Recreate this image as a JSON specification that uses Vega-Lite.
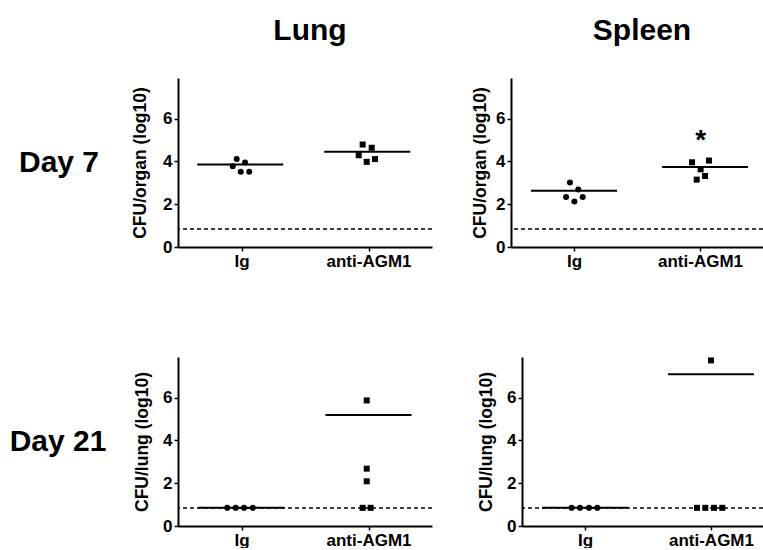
{
  "$schema": "https://vega.github.io/schema/vega-lite/v6.json",
  "padding": {"left": 0, "top": 16, "right": 0, "bottom": 0},
  "background": "white",
  "datasets": {
    "points": [
      {"organ": "Lung", "day": 7, "group": "Ig", "x": 0.962, "value": 4.11},
      {"organ": "Lung", "day": 7, "group": "Ig", "x": 0.931, "value": 3.78},
      {"organ": "Lung", "day": 7, "group": "Ig", "x": 1.028, "value": 3.95},
      {"organ": "Lung", "day": 7, "group": "Ig", "x": 0.994, "value": 3.52},
      {"organ": "Lung", "day": 7, "group": "Ig", "x": 1.061, "value": 3.52},
      {"organ": "Lung", "day": 7, "group": "anti-AGM1", "x": 1.954, "value": 4.79},
      {"organ": "Lung", "day": 7, "group": "anti-AGM1", "x": 2.025, "value": 4.64},
      {"organ": "Lung", "day": 7, "group": "anti-AGM1", "x": 1.923, "value": 4.29},
      {"organ": "Lung", "day": 7, "group": "anti-AGM1", "x": 1.986, "value": 3.98},
      {"organ": "Lung", "day": 7, "group": "anti-AGM1", "x": 2.051, "value": 4.11},
      {"organ": "Spleen", "day": 7, "group": "Ig", "x": 0.968, "value": 3.02},
      {"organ": "Spleen", "day": 7, "group": "Ig", "x": 1.034, "value": 2.69},
      {"organ": "Spleen", "day": 7, "group": "Ig", "x": 0.937, "value": 2.34},
      {"organ": "Spleen", "day": 7, "group": "Ig", "x": 1.069, "value": 2.34},
      {"organ": "Spleen", "day": 7, "group": "Ig", "x": 1.003, "value": 2.13},
      {"organ": "Spleen", "day": 7, "group": "anti-AGM1", "x": 1.937, "value": 3.96},
      {"organ": "Spleen", "day": 7, "group": "anti-AGM1", "x": 2.071, "value": 4.04},
      {"organ": "Spleen", "day": 7, "group": "anti-AGM1", "x": 2.005, "value": 3.63},
      {"organ": "Spleen", "day": 7, "group": "anti-AGM1", "x": 1.974, "value": 3.15},
      {"organ": "Spleen", "day": 7, "group": "anti-AGM1", "x": 2.04, "value": 3.32},
      {"organ": "Lung", "day": 21, "group": "Ig", "x": 0.888, "value": 0.85},
      {"organ": "Lung", "day": 21, "group": "Ig", "x": 0.954, "value": 0.85},
      {"organ": "Lung", "day": 21, "group": "Ig", "x": 1.02, "value": 0.85},
      {"organ": "Lung", "day": 21, "group": "Ig", "x": 1.089, "value": 0.85},
      {"organ": "Lung", "day": 21, "group": "anti-AGM1", "x": 1.986, "value": 5.87},
      {"organ": "Lung", "day": 21, "group": "anti-AGM1", "x": 1.986, "value": 2.68},
      {"organ": "Lung", "day": 21, "group": "anti-AGM1", "x": 1.986, "value": 2.09},
      {"organ": "Lung", "day": 21, "group": "anti-AGM1", "x": 1.954, "value": 0.85},
      {"organ": "Lung", "day": 21, "group": "anti-AGM1", "x": 2.017, "value": 0.85},
      {"organ": "Spleen", "day": 21, "group": "Ig", "x": 0.894, "value": 0.85},
      {"organ": "Spleen", "day": 21, "group": "Ig", "x": 0.96, "value": 0.85},
      {"organ": "Spleen", "day": 21, "group": "Ig", "x": 1.032, "value": 0.85},
      {"organ": "Spleen", "day": 21, "group": "Ig", "x": 1.098, "value": 0.85},
      {"organ": "Spleen", "day": 21, "group": "anti-AGM1", "x": 2.0, "value": 7.74},
      {"organ": "Spleen", "day": 21, "group": "anti-AGM1", "x": 1.889, "value": 0.85},
      {"organ": "Spleen", "day": 21, "group": "anti-AGM1", "x": 1.955, "value": 0.85},
      {"organ": "Spleen", "day": 21, "group": "anti-AGM1", "x": 2.024, "value": 0.85},
      {"organ": "Spleen", "day": 21, "group": "anti-AGM1", "x": 2.09, "value": 0.85}
    ],
    "means": [
      {"organ": "Lung", "day": 7, "group": "Ig", "x": 0.99, "value": 3.86},
      {"organ": "Lung", "day": 7, "group": "anti-AGM1", "x": 1.99, "value": 4.45},
      {"organ": "Spleen", "day": 7, "group": "Ig", "x": 1.0, "value": 2.63},
      {"organ": "Spleen", "day": 7, "group": "anti-AGM1", "x": 2.04, "value": 3.74},
      {"organ": "Lung", "day": 21, "group": "Ig", "x": 1.0, "value": 0.85},
      {"organ": "Lung", "day": 21, "group": "anti-AGM1", "x": 2.0, "value": 5.19},
      {"organ": "Spleen", "day": 21, "group": "Ig", "x": 1.0, "value": 0.85},
      {"organ": "Spleen", "day": 21, "group": "anti-AGM1", "x": 2.0, "value": 7.09}
    ],
    "stars": [
      {"organ": "Spleen", "day": 7, "x": 2.005, "value": 5.2, "label": "*"}
    ],
    "limit": [
      {"value": 0.84}
    ]
  },
  "vconcat": [
    {
      "spacing": 79,
      "bounds": "flush",
      "hconcat": [
        {
          "width": 99, "height": 169,
          "data": {"values": [{"label": "Day 7"}]},
          "mark": {"type": "text", "font": "Liberation Sans", "fontWeight": "bold", "fontSize": 30, "color": "black", "align": "center", "baseline": "middle", "dx": 9.5},
          "encoding": {"text": {"field": "label", "type": "nominal"}}
        },
        {
          "width": 254, "height": 169,
          "title": {"text": "Lung", "font": "Liberation Sans", "fontWeight": "bold", "fontSize": 30, "color": "black", "anchor": "middle", "frame": "group", "offset": 32, "dx": 5},
          "encoding": {
            "x": {"field": "x", "type": "quantitative", "scale": {"domain": [0.5, 2.5], "nice": false, "zero": false}, "axis": {"values": [1, 2], "labelExpr": "datum.value == 1 ? 'Ig' : 'anti-AGM1'", "title": null}},
            "y": {"field": "value", "type": "quantitative", "scale": {"domain": [0, 7.9], "nice": false}, "axis": {"values": [0, 2, 4, 6], "title": "CFU/organ (log10)", "titlePadding": 13}}
          },
          "layer": [
            {"data": {"name": "limit"}, "mark": {"type": "rule", "strokeDash": [4, 3], "strokeWidth": 1.5, "color": "black"}, "encoding": {"x": null, "y": {"field": "value", "type": "quantitative"}}},
            {"data": {"name": "means"}, "transform": [{"filter": "datum.organ == 'Lung' && datum.day == 7"}], "mark": {"type": "tick", "orient": "horizontal", "size": 86, "thickness": 2, "color": "black", "opacity": 1}},
            {"data": {"name": "points"}, "transform": [{"filter": "datum.organ == 'Lung' && datum.day == 7"}], "mark": {"type": "point", "filled": true, "opacity": 1, "size": 36, "color": "black"}, "encoding": {"shape": {"field": "group", "type": "nominal", "scale": {"domain": ["Ig", "anti-AGM1"], "range": ["circle", "square"]}, "legend": null}}}
          ]
        },
        {
          "width": 252, "height": 169,
          "title": {"text": "Spleen", "font": "Liberation Sans", "fontWeight": "bold", "fontSize": 30, "color": "black", "anchor": "middle", "frame": "group", "offset": 32, "dx": 5},
          "encoding": {
            "x": {"field": "x", "type": "quantitative", "scale": {"domain": [0.5, 2.5], "nice": false, "zero": false}, "axis": {"values": [1, 2], "labelExpr": "datum.value == 1 ? 'Ig' : 'anti-AGM1'", "title": null}},
            "y": {"field": "value", "type": "quantitative", "scale": {"domain": [0, 7.9], "nice": false}, "axis": {"values": [0, 2, 4, 6], "title": "CFU/organ (log10)", "titlePadding": 6}}
          },
          "layer": [
            {"data": {"name": "limit"}, "mark": {"type": "rule", "strokeDash": [4, 3], "strokeWidth": 1.5, "color": "black"}, "encoding": {"x": null, "y": {"field": "value", "type": "quantitative"}}},
            {"data": {"name": "means"}, "transform": [{"filter": "datum.organ == 'Spleen' && datum.day == 7"}], "mark": {"type": "tick", "orient": "horizontal", "size": 86, "thickness": 2, "color": "black", "opacity": 1}},
            {"data": {"name": "points"}, "transform": [{"filter": "datum.organ == 'Spleen' && datum.day == 7"}], "mark": {"type": "point", "filled": true, "opacity": 1, "size": 36, "color": "black"}, "encoding": {"shape": {"field": "group", "type": "nominal", "scale": {"domain": ["Ig", "anti-AGM1"], "range": ["circle", "square"]}, "legend": null}}},
            {"data": {"name": "stars"}, "mark": {"type": "text", "font": "Liberation Sans", "fontWeight": "bold", "fontSize": 28, "color": "black", "baseline": "middle", "dy": 5}, "encoding": {"text": {"field": "label", "type": "nominal"}}}
          ]
        }
      ]
    },
    {
      "spacing": 90,
      "bounds": "flush",
      "hconcat": [
        {
          "width": 88, "height": 169,
          "data": {"values": [{"label": "Day 21"}]},
          "mark": {"type": "text", "font": "Liberation Sans", "fontWeight": "bold", "fontSize": 30, "color": "black", "align": "center", "baseline": "middle", "dx": 14},
          "encoding": {"text": {"field": "label", "type": "nominal"}}
        },
        {
          "width": 254, "height": 169,
          "encoding": {
            "x": {"field": "x", "type": "quantitative", "scale": {"domain": [0.5, 2.5], "nice": false, "zero": false}, "axis": {"values": [1, 2], "labelExpr": "datum.value == 1 ? 'Ig' : 'anti-AGM1'", "title": null}},
            "y": {"field": "value", "type": "quantitative", "scale": {"domain": [0, 7.9], "nice": false}, "axis": {"values": [0, 2, 4, 6], "title": "CFU/lung (log10)", "titlePadding": 11}}
          },
          "layer": [
            {"data": {"name": "limit"}, "mark": {"type": "rule", "strokeDash": [4, 3], "strokeWidth": 1.5, "color": "black"}, "encoding": {"x": null, "y": {"field": "value", "type": "quantitative"}}},
            {"data": {"name": "means"}, "transform": [{"filter": "datum.organ == 'Lung' && datum.day == 21"}], "mark": {"type": "tick", "orient": "horizontal", "size": 86, "thickness": 2, "color": "black", "opacity": 1}},
            {"data": {"name": "points"}, "transform": [{"filter": "datum.organ == 'Lung' && datum.day == 21"}], "mark": {"type": "point", "filled": true, "opacity": 1, "size": 36, "color": "black"}, "encoding": {"shape": {"field": "group", "type": "nominal", "scale": {"domain": ["Ig", "anti-AGM1"], "range": ["circle", "square"]}, "legend": null}}}
          ]
        },
        {
          "width": 241, "height": 169,
          "encoding": {
            "x": {"field": "x", "type": "quantitative", "scale": {"domain": [0.5, 2.413], "nice": false, "zero": false}, "axis": {"values": [1, 2], "labelExpr": "datum.value == 1 ? 'Ig' : 'anti-AGM1'", "title": null}},
            "y": {"field": "value", "type": "quantitative", "scale": {"domain": [0, 7.9], "nice": false}, "axis": {"values": [0, 2, 4, 6], "title": "CFU/lung (log10)", "titlePadding": 11}}
          },
          "layer": [
            {"data": {"name": "limit"}, "mark": {"type": "rule", "strokeDash": [4, 3], "strokeWidth": 1.5, "color": "black"}, "encoding": {"x": null, "y": {"field": "value", "type": "quantitative"}}},
            {"data": {"name": "means"}, "transform": [{"filter": "datum.organ == 'Spleen' && datum.day == 21"}], "mark": {"type": "tick", "orient": "horizontal", "size": 86, "thickness": 2, "color": "black", "opacity": 1}},
            {"data": {"name": "points"}, "transform": [{"filter": "datum.organ == 'Spleen' && datum.day == 21"}], "mark": {"type": "point", "filled": true, "opacity": 1, "size": 36, "color": "black"}, "encoding": {"shape": {"field": "group", "type": "nominal", "scale": {"domain": ["Ig", "anti-AGM1"], "range": ["circle", "square"]}, "legend": null}}}
          ]
        }
      ]
    }
  ],
  "spacing": 88,
  "config": {
    "view": {"stroke": null},
    "axis": {"domainColor": "black", "domainWidth": 2, "tickColor": "black", "tickWidth": 1.5, "tickSize": 4, "labelFont": "Liberation Sans", "labelFontWeight": "bold", "labelFontSize": 17, "labelColor": "black", "labelPadding": 2, "titleFont": "Liberation Sans", "titleFontWeight": "bold", "titleFontSize": 17.5, "titleColor": "black", "grid": false},
    "axisX": {"labelPadding": 2}
  }
}
